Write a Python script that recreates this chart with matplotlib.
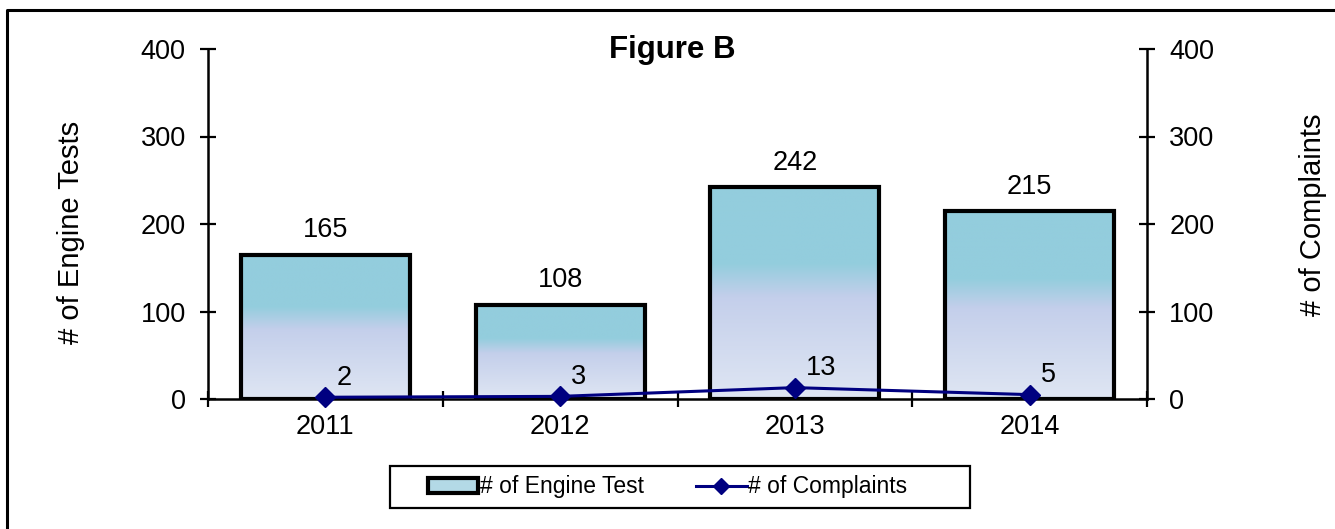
import numpy as np
import matplotlib
matplotlib.use("Agg")
import matplotlib.pyplot as plt
from matplotlib.patches import Rectangle
from matplotlib.lines import Line2D
from matplotlib.colors import to_rgb

plt.rcParams['font.family'] = ['Liberation Sans', 'DejaVu Sans']

years = ['2011', '2012', '2013', '2014']
engine_tests = [165, 108, 242, 215]
complaints = [2, 3, 13, 5]
yticks = [0, 100, 200, 300, 400]

W, H = 1335, 529
fig = plt.figure(figsize=(W / 100, H / 100), dpi=100)

def fx(px):
    return px / W

def fy(py):
    return 1 - py / H

ax = fig.add_axes([fx(208), fy(399), fx(1147) - fx(208), fy(49) - fy(399)])
ax.set_facecolor('none')

x = np.arange(len(years))
bar_w = 0.72
bars = ax.bar(x, engine_tests, width=bar_w, facecolor='none', edgecolor='black',
              linewidth=3.0, zorder=3)

# vertical gradient fill for each bar
stops = [(0.0, '#93CDDD'), (0.36, '#93CDDD'), (0.52, '#C4CFEB'), (1.0, '#DFE6F3')]
n = 256
t = np.linspace(0, 1, n)
cols = np.zeros((n, 1, 3))
for ch in range(3):
    cols[:, 0, ch] = np.interp(t, [s[0] for s in stops], [to_rgb(s[1])[ch] for s in stops])
for b in bars:
    bx, by = b.get_x(), b.get_y()
    bw, bh = b.get_width(), b.get_height()
    im = ax.imshow(cols, extent=[bx, bx + bw, by, by + bh], aspect='auto',
                   origin='upper', zorder=2, interpolation='bilinear')
    im.set_clip_path(b)

FS = 19.5
for xi, v in zip(x, engine_tests):
    ax.annotate(str(v), (xi, v), xytext=(0, 17.5), textcoords='offset points',
                ha='center', va='center', fontsize=FS)

ax.set_xlim(-0.5, 3.5)
ax.set_ylim(0, 400)
ax.set_yticks(yticks)
ax.set_xticks(x)
ax.set_xticklabels(years, fontsize=FS)
ax.tick_params(axis='x', which='major', length=0, pad=11)
ax.set_xticks([-0.5, 0.5, 1.5, 2.5, 3.5], minor=True)
ax.tick_params(axis='x', which='minor', length=12, width=1.6, direction='inout')
ax.tick_params(axis='y', which='major', length=12, width=1.6, direction='inout',
               labelsize=FS, pad=10)
for s in ['top', 'right']:
    ax.spines[s].set_visible(False)
for s in ['left', 'bottom']:
    ax.spines[s].set_linewidth(1.8)

ax2 = ax.twinx()
ax2.set_ylim(0, 400)
ax2.set_yticks(yticks)
ax2.tick_params(axis='y', length=12, width=1.6, direction='inout', labelsize=FS, pad=10)
for s in ['top', 'left', 'bottom']:
    ax2.spines[s].set_visible(False)
ax2.spines['right'].set_linewidth(1.8)
ax2.plot(x, complaints, color='#000080', linewidth=2.2, marker='D', markersize=10,
         clip_on=False, zorder=5)
for xi, v in zip(x, complaints):
    ax2.annotate(str(v), (xi, v), xytext=(8, 14), textcoords='offset points',
                 ha='left', va='center', fontsize=FS)

fig.text(fx(71), fy(232), '# of Engine Tests', rotation=90, ha='center', va='center',
         fontsize=21)
fig.text(fx(1313), fy(215), '# of Complaints', rotation=90, ha='center', va='center',
         fontsize=21)

fig.text(fx(672), fy(50), 'Figure B', ha='center', va='center', fontsize=22.5,
         fontweight='bold')

# legend frame and entries
fig.add_artist(Rectangle((fx(390), fy(508)), fx(970) - fx(390), fy(466) - fy(508),
                         transform=fig.transFigure, facecolor='none', edgecolor='black',
                         linewidth=1.6))
h1 = Rectangle((0, 0), 1, 1, facecolor='#B3D9E6', edgecolor='black', linewidth=3)
h2 = Line2D([], [], color='#000080', linewidth=2.2, marker='D', markersize=8)
fig.legend([h1, h2], ['# of Engine Test', '# of Complaints'], loc='center left',
           bbox_to_anchor=(fx(428), fy(487)), bbox_transform=fig.transFigure,
           ncol=2, frameon=False, fontsize=16.5, borderpad=0, borderaxespad=0,
           handlelength=2.2, handletextpad=0.05, columnspacing=2.3, handleheight=0.6)

# figure outer frame (left and top edges)
fig.add_artist(Line2D([fx(7), fx(7), 1.0], [0.0, fy(9.5), fy(9.5)],
                      transform=fig.transFigure, color='black', linewidth=2.2))

fig.savefig('out.png', dpi=100)
